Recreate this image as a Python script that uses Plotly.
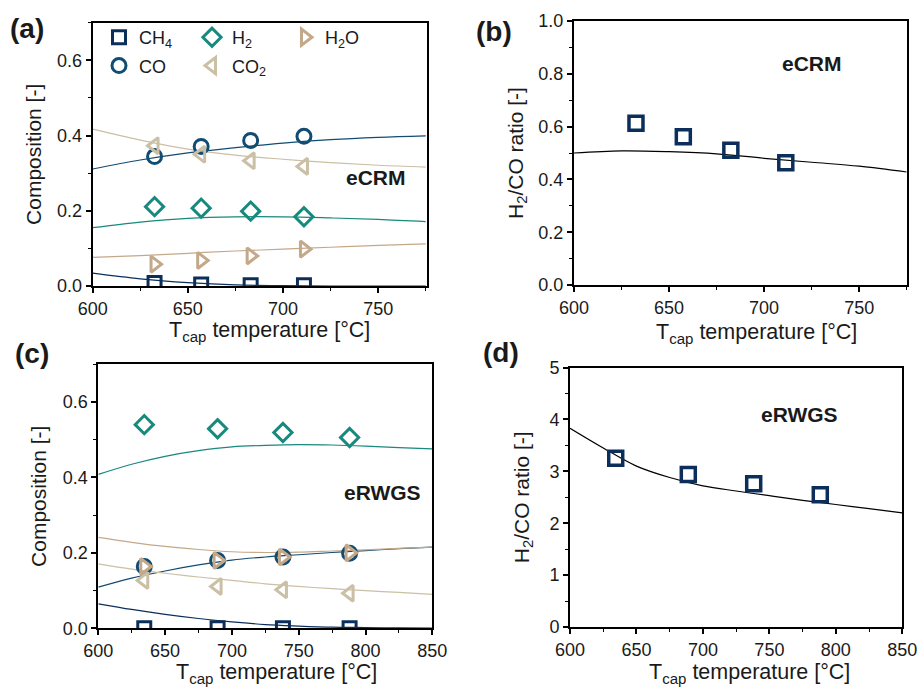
import plotly.graph_objects as go

# ---------------- data ----------------
# Panel (a) eCRM composition
a_T_exp = [632.5, 657, 683, 711]
a_CH4_exp = [0.008, 0.004, 0.002, 0.002]
a_CO_exp = [0.344, 0.371, 0.387, 0.398]
a_H2_exp = [0.211, 0.207, 0.199, 0.184]
a_CO2_exp = [0.373, 0.350, 0.333, 0.318]
a_H2O_exp = [0.058, 0.068, 0.080, 0.098]

a_T_mod = [600, 625, 650, 675, 700, 725, 750, 775]
a_CH4_mod = [0.034, 0.019, 0.009, 0.003, 0.001, 0.0, 0.0, 0.0]
a_CO_mod = [0.311, 0.335, 0.354, 0.368, 0.380, 0.389, 0.395, 0.399]
a_H2_mod = [0.155, 0.170, 0.180, 0.184, 0.184, 0.181, 0.177, 0.171]
a_CO2_mod = [0.417, 0.388, 0.364, 0.348, 0.337, 0.328, 0.321, 0.316]
a_H2O_mod = [0.076, 0.081, 0.087, 0.093, 0.098, 0.103, 0.108, 0.112]

# Panel (b) eCRM H2/CO ratio
b_T_exp = [632.6, 657.5, 682.5, 711.4]
b_ratio_exp = [0.613, 0.562, 0.510, 0.463]
b_T_mod = [600, 625, 650, 675, 700, 725, 750, 775]
b_ratio_mod = [0.500, 0.508, 0.505, 0.497, 0.480, 0.465, 0.450, 0.428]

# Panel (c) eRWGS composition
c_T_exp = [634.4, 689.3, 738.2, 788.1]
c_CH4_exp = [0.0, 0.0, 0.0, 0.0]
c_CO_exp = [0.164, 0.180, 0.189, 0.199]
c_H2_exp = [0.540, 0.529, 0.519, 0.506]
c_CO2_exp = [0.127, 0.111, 0.102, 0.093]
c_H2O_exp = [0.164, 0.180, 0.189, 0.200]

c_T_mod = [600, 625, 650, 675, 700, 725, 750, 775, 800, 825, 850]
c_CH4_mod = [0.065, 0.050, 0.037, 0.026, 0.017, 0.010, 0.006, 0.003, 0.002, 0.001, 0.0005]
c_CO_mod = [0.109, 0.133, 0.152, 0.168, 0.181, 0.189, 0.195, 0.201, 0.206, 0.211, 0.215]
c_H2_mod = [0.408, 0.435, 0.456, 0.471, 0.481, 0.485, 0.487, 0.486, 0.483, 0.479, 0.476]
c_CO2_mod = [0.171, 0.157, 0.146, 0.136, 0.127, 0.118, 0.111, 0.105, 0.100, 0.095, 0.090]
c_H2O_mod = [0.241, 0.228, 0.217, 0.209, 0.203, 0.201, 0.202, 0.205, 0.208, 0.212, 0.215]

# Panel (d) eRWGS H2/CO ratio
d_T_exp = [634.4, 689.0, 738.2, 788.3]
d_ratio_exp = [3.25, 2.94, 2.76, 2.55]
d_T_mod = [600, 625, 650, 675, 700, 725, 750, 775, 800, 825, 850]
d_ratio_mod = [3.83, 3.45, 3.10, 2.88, 2.72, 2.62, 2.53, 2.44, 2.36, 2.28, 2.20]

# ---------------- styling ----------------
C_CH4 = "#0b2f5a"
C_CO = "#114c73"
C_H2 = "#17897d"
C_CO2 = "#cbbfa5"
C_H2O = "#c4a88a"
FONT = "Liberation Sans"
TXT = "#1a1a1a"

fig = go.Figure()

species = [
    ("CH<sub>4</sub>", "square-open", C_CH4, "legend"),
    ("CO", "circle-open", C_CO, "legend"),
    ("H<sub>2</sub>", "diamond-open", C_H2, "legend2"),
    ("CO<sub>2</sub>", "triangle-left-open", C_CO2, "legend2"),
    ("H<sub>2</sub>O", "triangle-right-open", C_H2O, "legend3"),
]

a_mod = [a_CH4_mod, a_CO_mod, a_H2_mod, a_CO2_mod, a_H2O_mod]
a_exp = [a_CH4_exp, a_CO_exp, a_H2_exp, a_CO2_exp, a_H2O_exp]
c_mod = [c_CH4_mod, c_CO_mod, c_H2_mod, c_CO2_mod, c_H2O_mod]
c_exp = [c_CH4_exp, c_CO_exp, c_H2_exp, c_CO2_exp, c_H2O_exp]

# model lines
for (name, sym, col, lg), ym in zip(species, a_mod):
    fig.add_trace(go.Scatter(x=a_T_mod, y=ym, mode="lines", line=dict(color=col, width=1.2),
                             line_shape="spline", showlegend=False, xaxis="x", yaxis="y"))
for (name, sym, col, lg), ym in zip(species, c_mod):
    fig.add_trace(go.Scatter(x=c_T_mod, y=ym, mode="lines", line=dict(color=col, width=1.2),
                             line_shape="spline", showlegend=False, xaxis="x3", yaxis="y3"))

# experimental markers
for (name, sym, col, lg), ye in zip(species, a_exp):
    fig.add_trace(go.Scatter(x=a_T_exp, y=ye, mode="markers", name=name,
                             marker=dict(symbol=sym, size=14 if "square" not in sym else 13,
                                         color=col, line=dict(color=col, width=3)),
                             showlegend=True, legend=lg, legendgroup=name,
                             xaxis="x", yaxis="y"))
for (name, sym, col, lg), ye in zip(species, c_exp):
    fig.add_trace(go.Scatter(x=c_T_exp, y=ye, mode="markers", name=name,
                             marker=dict(symbol=sym, size=14 if "square" not in sym else 13,
                                         color=col, line=dict(color=col, width=3)),
                             showlegend=False, xaxis="x3", yaxis="y3"))

# ratio panels
fig.add_trace(go.Scatter(x=b_T_mod, y=b_ratio_mod, mode="lines", line=dict(color="black", width=1.2),
                         line_shape="spline", showlegend=False, xaxis="x2", yaxis="y2"))
fig.add_trace(go.Scatter(x=b_T_exp, y=b_ratio_exp, mode="markers",
                         marker=dict(symbol="square-open", size=14, color=C_CH4, line=dict(color=C_CH4, width=3.5)),
                         showlegend=False, xaxis="x2", yaxis="y2"))
fig.add_trace(go.Scatter(x=d_T_mod, y=d_ratio_mod, mode="lines", line=dict(color="black", width=1.2),
                         line_shape="spline", showlegend=False, xaxis="x4", yaxis="y4"))
fig.add_trace(go.Scatter(x=d_T_exp, y=d_ratio_exp, mode="markers",
                         marker=dict(symbol="square-open", size=14, color=C_CH4, line=dict(color=C_CH4, width=3.5)),
                         showlegend=False, xaxis="x4", yaxis="y4"))

W, H = 919, 687


def dx(a, b):
    return [a / W, b / W]


def dy(top, bottom):
    return [1 - bottom / H, 1 - top / H]


tickfont = dict(family=FONT, size=18, color=TXT)
titlefont = dict(family=FONT, size=21, color=TXT)
xtitle = "T<sub>cap</sub> temperature [°C]"


def xax(domain, anchor, rng):
    return dict(domain=domain, anchor=anchor, range=rng, dtick=50, tick0=600,
                showline=True, mirror=True, linewidth=2, linecolor="black",
                ticks="outside", ticklen=5, tickwidth=1.5, tickcolor="black",
                minor=dict(dtick=25, ticks="outside", ticklen=3, tickwidth=1.2, tickcolor="black"),
                showgrid=False, zeroline=False, tickfont=tickfont, automargin=False)


def yax(domain, anchor, rng, dt, mdt, fmt, title, standoff):
    return dict(domain=domain, anchor=anchor, range=rng, dtick=dt, tick0=0,
                showline=True, mirror=True, linewidth=2, linecolor="black",
                ticks="outside", ticklen=5, tickwidth=1.5, tickcolor="black",
                minor=dict(dtick=mdt, ticks="outside", ticklen=3, tickwidth=1.2, tickcolor="black"),
                showgrid=False, zeroline=False, tickfont=tickfont, tickformat=fmt, automargin=False,
                title=dict(text=title, font=titlefont, standoff=standoff))


legend_common = dict(bgcolor="rgba(0,0,0,0)", font=dict(family=FONT, size=18, color=TXT),
                     xanchor="left", yanchor="top", tracegroupgap=2, itemwidth=30,
                     orientation="v", itemclick=False)

fig.update_layout(
    width=W, height=H,
    margin=dict(l=0, r=0, t=0, b=0),
    paper_bgcolor="white", plot_bgcolor="white",
    font=dict(family=FONT, color=TXT),
    xaxis=xax(dx(92.7, 426.7), "y", [600, 775.5]),
    yaxis=yax(dy(22.7, 286), "x", [0, 0.7], 0.2, 0.1, ".1f", "Composition [-]", 10),
    xaxis2=xax(dx(574, 906.7), "y2", [600, 775]),
    yaxis2=yax(dy(21, 285), "x2", [0, 1.0], 0.2, 0.1, ".1f", "H<sub>2</sub>/CO ratio [-]", 9),
    xaxis3=xax(dx(98.3, 432.3), "y3", [600, 850]),
    yaxis3=yax(dy(364.3, 628.3), "x3", [0, 0.7], 0.2, 0.1, ".1f", "Composition [-]", 10),
    xaxis4=xax(dx(570, 902.3), "y4", [600, 850]),
    yaxis4=yax(dy(367.5, 627), "x4", [0, 5], 1, 0.5, "d", "H<sub>2</sub>/CO ratio [-]", 14),
    legend=dict(x=99 / W, y=1 - 19 / H, **legend_common),
    legend2=dict(x=192 / W, y=1 - 19 / H, **legend_common),
    legend3=dict(x=285 / W, y=1 - 19 / H, **legend_common),
)

annots = [
    dict(text="<b>eCRM</b>", x=749, y=0.288, xref="x", yref="y"),
    dict(text="<b>eCRM</b>", x=725, y=0.84, xref="x2", yref="y2"),
    dict(text="<b>eRWGS</b>", x=813, y=0.36, xref="x3", yref="y3"),
    dict(text="<b>eRWGS</b>", x=773, y=4.09, xref="x4", yref="y4"),
]
for a in annots:
    fig.add_annotation(showarrow=False, xanchor="center", yanchor="middle",
                       font=dict(family=FONT, size=21, color=TXT), **a)

# x-axis titles (placed as in the reference, slightly right of centre)
for cx, cy in [(269, 331), (756, 333), (276, 673), (749, 673)]:
    fig.add_annotation(text=xtitle, x=cx / W, y=1 - cy / H, xref="paper", yref="paper",
                       xanchor="center", yanchor="middle",
                       showarrow=False, font=dict(family=FONT, size=21.5, color=TXT))

for lab, px, py in [("(a)", 27, 29), ("(b)", 494, 31), ("(c)", 32, 353), ("(d)", 501, 352)]:
    fig.add_annotation(text="<b>" + lab + "</b>", x=px / W, y=1 - py / H, xref="paper", yref="paper",
                       xanchor="center", yanchor="middle",
                       showarrow=False, font=dict(family=FONT, size=28, color=TXT))

fig.write_html("out.html", config={"displayModeBar": False},
               post_script="document.body.style.margin='0';")
